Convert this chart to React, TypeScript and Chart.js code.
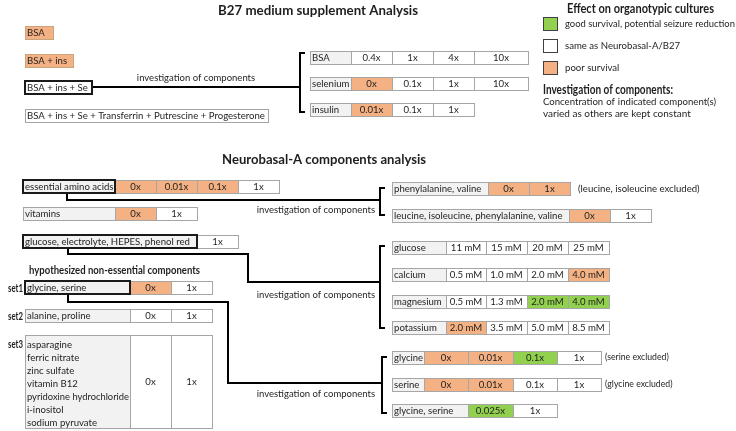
import { useEffect, useRef } from "react";
import { Chart, registerables } from "chart.js";

Chart.register(...registerables);

type Eff = "good" | "same" | "poor";

// ---------------- data ----------------
const legendTitle = "Effect on organotypic cultures";
const legendLabels = ["good survival, potential seizure reduction", "same as Neurobasal-A/B27", "poor survival"];
const legendEffects: Eff[] = ["good", "same", "poor"];
const noteTitle = "Investigation of components:";
const noteLines = ["Concentration of indicated component(s)", "varied as others are kept constant"];

const b27Title = "B27 medium supplement Analysis";
const b27Mixtures = ["BSA", "BSA + ins", "BSA + ins + Se", "BSA + ins + Se + Transferrin + Putrescine + Progesterone"];
const b27MixtureEffects: Eff[] = ["poor", "poor", "same", "same"];
const b27Components = ["BSA", "selenium", "insulin"];
const b27Levels = [["0.4x", "1x", "4x", "10x"], ["0x", "0.1x", "1x", "10x"], ["0.01x", "0.1x", "1x"]];
const b27Effects: Eff[][] = [["same", "same", "same", "same"], ["poor", "same", "same", "same"], ["poor", "same", "same"]];

const nbTitle = "Neurobasal-A components analysis";
const nbGroups = ["essential amino acids", "vitamins", "glucose, electrolyte, HEPES, phenol red"];
const nbLevels = [["0x", "0.01x", "0.1x", "1x"], ["0x", "1x"], ["1x"]];
const nbEffects: Eff[][] = [["poor", "poor", "poor", "same"], ["poor", "same"], ["same"]];

const setsTitle = "hypothesized non-essential components";
const setNames = ["set1", "set2", "set3"];
const setComponents = [
  ["glycine, serine"],
  ["alanine, proline"],
  ["asparagine", "ferric nitrate", "zinc sulfate", "vitamin B12", "pyridoxine hydrochloride", "i-inositol", "sodium pyruvate"],
];
const setLevels = [["0x", "1x"], ["0x", "1x"], ["0x", "1x"]];
const setEffects: Eff[][] = [["poor", "same"], ["same", "same"], ["same", "same"]];

const aaSubsets = ["phenylalanine, valine", "leucine, isoleucine, phenylalanine, valine"];
const aaLevels = [["0x", "1x"], ["0x", "1x"]];
const aaEffects: Eff[][] = [["poor", "poor"], ["poor", "same"]];
const aaNotes = ["(leucine, isoleucine excluded)", ""];

const ionNames = ["glucose", "calcium", "magnesium", "potassium"];
const ionLevels = [
  ["11 mM", "15 mM", "20 mM", "25 mM"],
  ["0.5 mM", "1.0 mM", "2.0 mM", "4.0 mM"],
  ["0.5 mM", "1.3 mM", "2.0 mM", "4.0 mM"],
  ["2.0 mM", "3.5 mM", "5.0 mM", "8.5 mM"],
];
const ionEffects: Eff[][] = [
  ["same", "same", "same", "same"],
  ["same", "same", "same", "poor"],
  ["same", "same", "good", "good"],
  ["poor", "same", "same", "same"],
];

const gsNames = ["glycine", "serine", "glycine, serine"];
const gsLevels = [["0x", "0.01x", "0.1x", "1x"], ["0x", "0.01x", "0.1x", "1x"], ["0.025x", "1x"]];
const gsEffects: Eff[][] = [["poor", "poor", "good", "same"], ["poor", "poor", "same", "same"], ["good", "same"]];
const gsNotes = ["(serine excluded)", "(glycine excluded)", ""];

const linkLabel = "investigation of components";

// ---------------- layout & style ----------------
const W = 736;
const H = 431;
const FONT = '"Lato", "Open Sans", sans-serif';
const FILL: Record<Eff, string> = { good: "#92D050", same: "#FFFFFF", poor: "#F4B183" };
const LABEL_FILL = "#F2F2F2";
const GRID = "#A6A6A6";
const INK = "#1e1e1e";
const CELL_FS = 9.6;

type RowL = { x: number; y: number; h: number; lw: number; cw: number[]; thick?: boolean };

const L = {
  b27Mix: [
    { x: 25, y: 26, w: 28 },
    { x: 25, y: 54, w: 48 },
    { x: 25, y: 81, w: 67, thick: true },
    { x: 25, y: 109, w: 243 },
  ],
  b27Rows: [
    { x: 310, y: 51, h: 13, lw: 41, cw: [41, 41, 41, 54] },
    { x: 310, y: 77, h: 13, lw: 41, cw: [41, 41, 41, 54] },
    { x: 310, y: 103, h: 13, lw: 41, cw: [41, 41, 41] },
  ] as RowL[],
  nbRows: [
    { x: 23, y: 180, h: 13, lw: 92, cw: [41, 41, 41, 41], thick: true },
    { x: 23, y: 207, h: 13, lw: 92, cw: [41, 41] },
    { x: 23, y: 235, h: 13, lw: 174, cw: [41], thick: true },
  ] as RowL[],
  setRows: [
    { x: 25, y: 281, h: 13, lw: 105, cw: [41, 41], thick: true },
    { x: 25, y: 309, h: 13, lw: 105, cw: [41, 41] },
    { x: 25, y: 335, h: 93, lw: 105, cw: [41, 41] },
  ] as RowL[],
  aaRows: [
    { x: 392, y: 182, h: 13, lw: 96, cw: [41, 41] },
    { x: 392, y: 209, h: 13, lw: 177, cw: [41, 41] },
  ] as RowL[],
  ionRows: [
    { x: 392, y: 241, h: 13, lw: 54, cw: [40, 41, 41, 41] },
    { x: 392, y: 268, h: 13, lw: 54, cw: [40, 41, 41, 41] },
    { x: 392, y: 295, h: 13, lw: 54, cw: [40, 41, 41, 41] },
    { x: 392, y: 321, h: 13, lw: 54, cw: [40, 41, 41, 41] },
  ] as RowL[],
  gsRows: [
    { x: 392, y: 351, h: 13, lw: 32, cw: [44, 45, 44, 44] },
    { x: 392, y: 378, h: 13, lw: 32, cw: [44, 45, 44, 44] },
    { x: 392, y: 404, h: 13, lw: 76, cw: [45, 44] },
  ] as RowL[],
  brackets: [
    { x: 300, y1: 53, y2: 112 },
    { x: 380, y1: 188, y2: 215 },
    { x: 380, y1: 246, y2: 328 },
    { x: 382, y1: 357, y2: 413 },
  ],
  connectors: [
    [[92, 87], [300, 87]],
    [[67, 193], [67, 200], [380, 200]],
    [[68, 248], [68, 254], [248, 254], [248, 282], [380, 282]],
    [[68, 294], [68, 302], [228, 302], [228, 383], [382, 383]],
  ],
  linkText: [
    { x: 196, y: 78, align: "center" },
    { x: 375, y: 210, align: "right" },
    { x: 375, y: 295, align: "right" },
    { x: 375, y: 394, align: "right" },
  ],
};

function drawDiagram(chart: any) {
  const ctx: CanvasRenderingContext2D = chart.ctx;
  const sx = chart.scales.x;
  const sy = chart.scales.y;
  const X = (v: number) => sx.getPixelForValue(v);
  const Y = (v: number) => sy.getPixelForValue(v);

  const text = (s: string, x: number, y: number, size: number, opts: any = {}) => {
    ctx.save();
    ctx.font = `${opts.bold ? "bold " : ""}${size}px ${FONT}`;
    ctx.fillStyle = opts.color || INK;
    ctx.textAlign = opts.align || "left";
    ctx.textBaseline = "middle";
    if (opts.maxW) ctx.fillText(s, X(x), Y(y), opts.maxW);
    else ctx.fillText(s, X(x), Y(y));
    ctx.restore();
  };

  const rect = (x: number, y: number, w: number, h: number, fill: string, stroke: string, lw: number) => {
    const px = Math.round(X(x)), py = Math.round(Y(y));
    const pw = Math.round(X(x + w)) - px, ph = Math.round(Y(y + h)) - py;
    ctx.save();
    ctx.fillStyle = fill;
    ctx.fillRect(px, py, pw, ph);
    ctx.strokeStyle = stroke;
    ctx.lineWidth = lw;
    const o = lw % 2 === 1 ? 0.5 : 0;
    ctx.strokeRect(px + o, py + o, pw, ph);
    ctx.restore();
  };

  const poly = (pts: number[][], lw = 2, color = "#000") => {
    ctx.save();
    ctx.strokeStyle = color;
    ctx.lineWidth = lw;
    ctx.lineJoin = "miter";
    ctx.beginPath();
    pts.forEach(([a, b], i) => (i ? ctx.lineTo(X(a), Y(b)) : ctx.moveTo(X(a), Y(b))));
    ctx.stroke();
    ctx.restore();
  };

  const row = (r: RowL, label: string[], levels: string[], effs: Eff[]) => {
    let cx = r.x + r.lw;
    levels.forEach((lv, i) => {
      const w = r.cw[i];
      rect(cx, r.y, w, r.h, FILL[effs[i]], GRID, 1);
      text(lv, cx + w / 2, r.y + r.h / 2 + 0.5, CELL_FS, { align: "center" });
      cx += w;
    });
    rect(r.x, r.y, r.lw, r.h, LABEL_FILL, r.thick ? "#1a1a1a" : GRID, r.thick ? 2 : 1);
    if (label.length === 1) {
      text(label[0], r.x + 2, r.y + r.h / 2 + 0.5, CELL_FS, { maxW: r.lw - 3 });
    } else {
      label.forEach((s, i) => text(s, r.x + 2, r.y + 9.5 + i * 13.1, CELL_FS, { maxW: r.lw - 3 }));
    }
  };

  // titles
  text(b27Title, 218, 11, 13.4, { bold: true, maxW: 200 });
  text(nbTitle, 222, 160, 13.4, { bold: true, maxW: 204 });

  // legend
  text(legendTitle, 567, 9, 13, { bold: true, maxW: 147 });
  const legTops = [17, 39, 61];
  legendLabels.forEach((s, i) => {
    rect(543, legTops[i], 14, 13, FILL[legendEffects[i]], "#404040", 1);
    text(s, 565, legTops[i] + 7, 9.6, { maxW: 170 });
  });
  text(noteTitle, 543, 90, 12.4, { bold: true, maxW: 130 });
  ctx.save();
  ctx.font = `9.6px ${FONT}`;
  ctx.fillStyle = INK;
  ctx.textBaseline = "middle";
  const words = noteLines[0].split(" ");
  const total = words.reduce((a, w) => a + ctx.measureText(w).width, 0);
  const gap = Math.max(2, (X(716) - X(543) - total) / (words.length - 1));
  let wx = X(543);
  words.forEach((w) => {
    ctx.fillText(w, wx, Y(102));
    wx += ctx.measureText(w).width + gap;
  });
  ctx.font = `10px ${FONT}`;
  ctx.fillText(noteLines[1], X(543), Y(114), 150);
  ctx.restore();

  // connectors & brackets
  L.connectors.forEach((c) => poly(c as number[][], 2));
  L.brackets.forEach((b) => poly([[b.x + 5, b.y1], [b.x, b.y1], [b.x, b.y2], [b.x + 5, b.y2]], 2));
  L.linkText.forEach((t) => text(linkLabel, t.x, t.y, 9.5, { align: t.align }));

  // B27 mixtures
  b27Mixtures.forEach((s, i) => {
    const m = L.b27Mix[i];
    const thick = !!m.thick;
    const stroke = b27MixtureEffects[i] === "poor" ? "#C9A27E" : thick ? "#1a1a1a" : GRID;
    rect(m.x, m.y, m.w, 13, FILL[b27MixtureEffects[i]], stroke, thick ? 2 : 1);
    text(s, m.x + 2, m.y + 7, CELL_FS, { maxW: m.w - 3 });
  });
  b27Components.forEach((s, i) => row(L.b27Rows[i], [s], b27Levels[i], b27Effects[i]));

  // Neurobasal
  nbGroups.forEach((s, i) => row(L.nbRows[i], [s], nbLevels[i], nbEffects[i]));
  text(setsTitle, 29, 270, 11, { bold: true, maxW: 171 });
  setNames.forEach((s, i) => {
    const r = L.setRows[i];
    text(s, 8, i === 2 ? r.y + 9.5 : r.y + r.h / 2 + 0.5, 11, { bold: true, maxW: 15 });
    row(r, setComponents[i], setLevels[i], setEffects[i]);
  });
  aaSubsets.forEach((s, i) => {
    const r = L.aaRows[i];
    row(r, [s], aaLevels[i], aaEffects[i]);
    if (aaNotes[i]) text(aaNotes[i], r.x + r.lw + r.cw.reduce((a, b) => a + b, 0) + 8, r.y + 7, CELL_FS);
  });
  ionNames.forEach((s, i) => row(L.ionRows[i], [s], ionLevels[i], ionEffects[i]));
  gsNames.forEach((s, i) => {
    const r = L.gsRows[i];
    row(r, [s], gsLevels[i], gsEffects[i]);
    if (gsNotes[i]) text(gsNotes[i], r.x + r.lw + r.cw.reduce((a, b) => a + b, 0) + 4, r.y + 6, 8.7);
  });
}

export default function App() {
  const ref = useRef<HTMLCanvasElement | null>(null);
  useEffect(() => {
    if (!ref.current) return;
    const chart = new Chart(ref.current, {
      type: "scatter",
      data: { datasets: [{ data: [], showLine: false }] },
      options: {
        animation: false,
        responsive: false,
        devicePixelRatio: 1,
        layout: { padding: 0 },
        plugins: { legend: { display: false }, tooltip: { enabled: false }, title: { display: false } },
        scales: {
          x: { type: "linear", min: 0, max: W, display: false },
          y: { type: "linear", min: 0, max: H, reverse: true, display: false },
        },
      },
      plugins: [
        {
          id: "bg",
          beforeDraw: (c: any) => {
            c.ctx.save();
            c.ctx.fillStyle = "#fff";
            c.ctx.fillRect(0, 0, c.width, c.height);
            c.ctx.restore();
          },
        },
        { id: "diagram", afterDraw: (c: any) => drawDiagram(c) },
      ],
    });
    return () => chart.destroy();
  }, []);
  return (
    <div style={{ position: "absolute", left: 0, top: 0, width: W, height: H, background: "#fff" }}>
      <canvas ref={ref} width={W} height={H} style={{ display: "block" }} />
    </div>
  );
}
